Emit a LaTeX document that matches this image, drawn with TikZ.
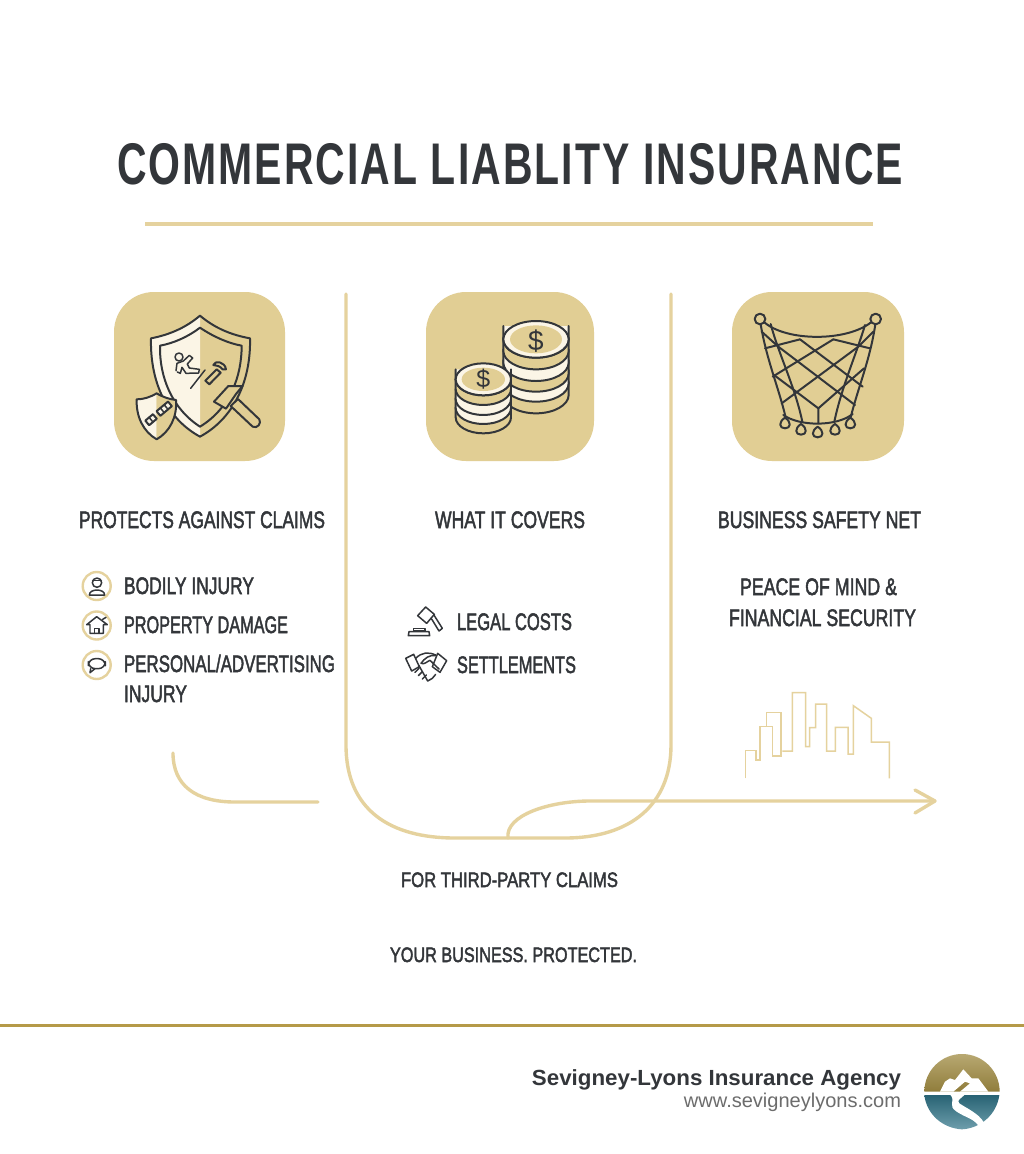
\documentclass[tikz,border=0pt]{standalone}
\usepackage{fontspec}
\usepackage{graphicx}
\usetikzlibrary{arrows.meta,calc}
\setmainfont{Liberation Sans}
\newfontfamily\condfont[FakeBold=2.4]{Liberation Sans}
\newfontfamily\titlefont[LetterSpace=5]{Liberation Sans Bold}
\newfontfamily\footbold{Liberation Sans Bold}
\definecolor{ink}{HTML}{33363A}
\definecolor{gold}{HTML}{E5D29E}
\definecolor{tan}{HTML}{E1CE94}
\definecolor{cream}{HTML}{FBF5E6}
\definecolor{rule}{HTML}{B59A48}
\definecolor{logogold}{HTML}{A08B42}
\definecolor{logoteal}{HTML}{2F7488}
\newcommand\fitT[3]{\resizebox{#1bp}{\height}{\condfont\fontsize{#2}{#2}\selectfont #3}}
\tikzset{
  x=1bp,y=-1bp,
  lab/.style={anchor=base west,inner sep=0pt,outer sep=0pt,text=ink},
  curveline/.style={draw=gold,line width=3.4pt,line cap=round,line join=round},
  iconbox/.style={fill=tan,rounded corners=40bp},
  ico/.style={draw=ink,line width=2pt,line join=round,line cap=round},
  icosm/.style={draw=ink,line width=1.5pt,line join=round,line cap=round},
  zoomA/.style={shift={(#1)},xscale=1/3,yscale=1/3},
  ring/.style={draw=gold,line width=2.4pt,fill=white}
}
\begin{document}
\begin{tikzpicture}
\useasboundingbox (0,0) rectangle (1024,1154);
\fill[white] (0,0) rectangle (1024,1154);
% title
\node[lab] (title) at (117,184) {\resizebox{786bp}{\height}{\titlefont\fontsize{59}{59}\selectfont COMMERCIAL LIABLITY INSURANCE}};
\draw[gold,line width=3.2pt] (145,224) -- (873,224);
% icon boxes
\path[iconbox] (114,292) rectangle (285,461);
\path[iconbox] (426,292) rectangle (594,461);
\path[iconbox] (732,292) rectangle (904,461);
% shield icon
\begin{scope}[zoomA={100,280}]
  \fill[cream] (300,107) .. controls (255,145) and (205,165) .. (153,175) .. controls (150,290) and (190,410) .. (300,470) -- cycle;
  \draw[ico] (300,107) .. controls (345,145) and (395,165) .. (450,175) .. controls (453,290) and (410,410) .. (300,470) .. controls (190,410) and (150,290) .. (153,175) .. controls (205,165) and (255,145) .. (300,107) -- cycle;
  \draw[ico] (300,143) .. controls (340,170) and (385,190) .. (425,197) .. controls (425,290) and (390,385) .. (300,440) .. controls (215,385) and (178,290) .. (180,197) .. controls (220,190) and (265,170) .. (300,143) -- cycle;
  % falling figure
  \draw[icosm] (237,231) circle (12);
  \draw[icosm] (228,272) -- (231,250) -- (250,243) -- (268,226) -- (278,234) -- (262,252) -- (268,264) -- (298,268) -- (296,279) -- (258,280) -- (246,262) -- (241,280) -- (232,276);
  \draw[icosm] (272,325) -- (315,270);
  % nail
  \draw[ico,fill=tan] (340,255) .. controls (345,240) and (375,245) .. (378,268) -- (368,268) .. controls (360,258) and (350,256) .. (340,255) -- cycle;
  \draw[ico,fill=tan] (350,268) -- (316,302) -- (328,313) -- (362,278) -- cycle;
  % hammer
  \draw[ico,fill=tan] (414,357) -- (478,418) .. controls (485,430) and (472,447) .. (458,440) -- (392,378) -- cycle;
  \draw[ico,fill=tan] (342,365) -- (385,318) -- (428,318) -- (408,342) -- (378,386) -- cycle;
  % small shield
  \fill[cream] (170,340) .. controls (150,352) and (130,358) .. (110,358) .. controls (108,410) and (130,455) .. (170,478) -- cycle;
  \fill[tan] (170,340) .. controls (190,352) and (210,358) .. (228,360) .. controls (232,410) and (210,455) .. (170,478) -- cycle;
  \draw[ico] (170,340) .. controls (190,352) and (210,358) .. (228,360) .. controls (232,410) and (210,455) .. (170,478) .. controls (130,455) and (108,410) .. (110,358) .. controls (130,358) and (150,352) .. (170,340) -- cycle;
  \begin{scope}[rotate around={40:(170,405)}]
    \draw[ico,fill=cream] (133,396) rectangle (163,414);
    \draw[ico,fill=cream] (177,396) rectangle (222,414);
    \draw[icosm] (148,396) -- (148,414) (192,396) -- (192,414) (207,396) -- (207,414);
  \end{scope}
\end{scope}
% coins
\begin{scope}[zoomA={415,280}]
  \foreach \yy/\cc in {345/tan,310/cream,280/tan,248/cream,213/tan,178/cream}{
    \fill[\cc] (265,\yy) arc[start angle=180,end angle=0,x radius=98,y radius=55] -- (461,\yy-40) -- (265,\yy-40) -- cycle;
    \draw[ico] (265,\yy-40) -- (265,\yy) arc[start angle=180,end angle=0,x radius=98,y radius=55] -- (461,\yy-40);
  }
  \draw[ico,fill=cream] (363,178) ellipse[x radius=98,y radius=55];
  \fill[tan] (363,178) ellipse[x radius=78,y radius=42];
  \node[text=ink,inner sep=0pt] (bigdollar) at (363,182) {\fontsize{28}{28}\selectfont\$};
  \foreach \yy/\cc in {412/tan,384/cream,357/cream,327/tan,298/cream}{
    \fill[\cc] (122,\yy) arc[start angle=180,end angle=0,x radius=83,y radius=48] -- (288,\yy-30) -- (122,\yy-30) -- cycle;
    \draw[ico] (122,\yy-30) -- (122,\yy) arc[start angle=180,end angle=0,x radius=83,y radius=48] -- (288,\yy-30);
  }
  \draw[ico,fill=cream] (205,298) ellipse[x radius=83,y radius=48];
  \fill[tan] (205,298) ellipse[x radius=65,y radius=35];
  \node[text=ink,inner sep=0pt] (smalldollar) at (205,298) {\fontsize{25}{25}\selectfont\$};
\end{scope}
% net
\begin{scope}[zoomA={720,280}]
  \draw[ico] (120,117) circle (16);
  \draw[ico] (467,117) circle (16);
  \draw[ico] (133,127) .. controls (200,185) and (380,185) .. (453,127);
  \draw[ico] (122,133) .. controls (140,240) and (175,320) .. (197,412);
  \draw[ico] (466,133) .. controls (450,240) and (415,320) .. (392,412);
  \draw[ico] (152,132) .. controls (175,220) and (225,320) .. (247,425);
  \draw[ico] (435,135) .. controls (410,220) and (365,320) .. (343,425);
  \draw[ico] (190,405) .. controls (240,440) and (350,440) .. (398,402);
  \draw[ico] (135,205) -- (240,178) (450,205) -- (340,178);
  \draw[ico] (125,155) -- (175,200) -- (405,375);
  \draw[ico] (460,155) -- (415,200) -- (185,370);
  \draw[ico] (240,178) -- (428,320);
  \draw[ico] (340,178) -- (158,290);
  \draw[ico] (162,285) -- (295,385) -- (295,430);
  \draw[ico] (432,265) -- (295,385);
  \foreach \px/\py in {195/428,243/447,293/455,345/447,391/428}{
    \draw[ico] (\px,\py-15) .. controls (\px+20,\py-2) and (\px+18,\py+17) .. (\px,\py+17) .. controls (\px-18,\py+17) and (\px-20,\py-2) .. (\px,\py-15) -- cycle;
  }
\end{scope}
% headings
\node[lab] (h1) at (79,528) {\fitT{246}{24}{PROTECTS AGAINST CLAIMS}};
\node[lab] (h2) at (435,528) {\fitT{150}{24}{WHAT IT COVERS}};
\node[lab] (h3) at (718,528) {\fitT{203}{24}{BUSINESS SAFETY NET}};
% left list
\node[lab] (l1) at (124,594) {\fitT{130}{24}{BODILY INJURY}};
\node[lab] (l2) at (124,633) {\fitT{164}{24}{PROPERTY DAMAGE}};
\node[lab] (l3) at (124,672) {\fitT{211}{24}{PERSONAL/ADVERTISING}};
\node[lab] (l4) at (124,702) {\fitT{63}{24}{INJURY}};
\draw[ring] (96.7,586) circle (14);
\draw[ring] (96.7,625.5) circle (14);
\draw[ring] (96.7,665) circle (14);
\begin{scope}[zoomA={70,560}]
  \draw[icosm] (81,68) circle (14);
  \draw[icosm] (68,62) -- (94,62);
  \draw[icosm] (58,105) .. controls (58,85) and (104,85) .. (104,105) -- cycle;
  \draw[icosm] (50,194) -- (80,170) -- (112,194) -- (100,194) -- (100,220) -- (60,220) -- (60,194) -- cycle;
  \draw[icosm] (73,220) -- (73,206) -- (87,206) -- (87,220);
  \draw[icosm] (98,178) -- (108,172);
  \draw[icosm,rounded corners=7bp] (55,296) rectangle (106,326);
  \draw[icosm] (62,326) -- (60,338) -- (75,326);
\end{scope}
% middle list
\node[lab] (m1) at (457,630) {\fitT{115}{24}{LEGAL COSTS}};
\node[lab] (m2) at (457,673) {\fitT{119}{24}{SETTLEMENTS}};
\begin{scope}[zoomA={395,595}]
  \draw[icosm,fill=white] (92,36) -- (118,58) -- (95,85) -- (68,62) -- cycle;
  \draw[icosm] (110,72) -- (132,108) -- (142,100) -- (118,62);
  \draw[icosm] (55,100) -- (90,100) -- (90,108) -- (55,108) -- cycle;
  \draw[icosm,fill=white] (40,122) -- (42,110) -- (102,110) -- (104,122) -- cycle;
  \draw[icosm] (56,178) -- (32,190) -- (50,228) -- (73,215) -- cycle;
  \draw[icosm] (128,175) -- (155,197) -- (135,232) -- (112,215) -- cycle;
  \draw[icosm] (62,190) .. controls (80,172) and (100,170) .. (122,180);
  \draw[icosm] (122,182) .. controls (105,178) and (88,190) .. (78,205) .. controls (88,210) and (98,198) .. (105,196) -- (132,222);
  \draw[icosm] (72,212) -- (98,258) -- (112,250) -- (122,238);
  \draw[icosm] (60,232) -- (72,220) (70,242) -- (82,230) (82,252) -- (94,240);
\end{scope}
% right text
\node[lab] (r1) at (740,595) {\fitT{157}{24}{PEACE OF MIND \&}};
\node[lab] (r2) at (729,626) {\fitT{187}{24}{FINANCIAL SECURITY}};
% skyline
\begin{scope}[zoomA={730,680}]
  \draw[gold,line width=1.5pt,line join=miter] (47,295) -- (47,212) -- (78,212) -- (78,240) -- (90,240) -- (90,140) -- (127,140) -- (127,228) -- (153,228) -- (153,98) -- (110,98) -- (110,140);
  \draw[gold,line width=1.5pt] (157,213) -- (187,213) -- (187,38) -- (227,38) -- (227,200) -- (239,200) -- (239,143) -- (257,143) -- (257,72) -- (290,72) -- (290,213) -- (316,213) -- (316,142) -- (354,142) -- (354,222) -- (370,222) -- (370,77) -- (424,115) -- (424,186) -- (478,186) -- (478,295);
\end{scope}
% curves
\draw[curveline] (346,294) -- (346,745) .. controls (346,810) and (390,838) .. (455,838) -- (565,838) .. controls (630,838) and (671,805) .. (671,745) -- (671,294);
\draw[curveline] (173,753) .. controls (173,785) and (195,802) .. (235,802) -- (318,802);
\draw[curveline] (508,838) .. controls (505,815) and (550,801) .. (590,801) -- (933,801);
\draw[curveline] (915,790) -- (935,801) -- (915,813);
% bottom texts
\node[lab] (b1) at (401,887) {\fitT{217}{21}{FOR THIRD-PARTY CLAIMS}};
\node[lab] (b2) at (390,962) {\fitT{247}{21}{YOUR BUSINESS. PROTECTED.}};
% footer
\draw[rule,line width=3pt] (0,1025) -- (1024,1025);
\node[lab,anchor=base east] (f1) at (901,1085) {\resizebox{369bp}{\height}{\footbold\fontsize{22}{22}\selectfont Sevigney-Lyons Insurance Agency}};
\node[lab,anchor=base east,text=gray!85!black] (f2) at (901,1107) {\resizebox{217bp}{\height}{\fontsize{20}{20}\selectfont www.sevigneylyons.com}};
% logo
\begin{scope}[zoomA={900,1040}]
  \shade[top color=logogold!75!white,bottom color=logogold!90!black] (73,155) arc[start angle=180,end angle=360,radius=113] -- cycle;
  \shade[top color=logoteal!85!black,bottom color=logoteal!70!white] (73,165) -- (298,165) .. controls (290,225) and (240,265) .. (186,268) .. controls (130,265) and (80,225) .. (73,165) -- cycle;
  \fill[white] (120,155) -- (135,125) -- (150,115) -- (165,120) -- (190,88) -- (215,115) -- (235,115) -- (265,155) -- (180,155) -- (210,130) -- (195,125) -- (160,155) -- cycle;
  \fill[white] (150,163) .. controls (170,185) and (140,195) .. (170,215) .. controls (200,235) and (225,235) .. (240,265) -- (250,245) .. controls (235,220) and (200,205) .. (178,190) .. controls (168,180) and (185,175) .. (195,163) -- cycle;
\end{scope}
\end{tikzpicture}
\end{document}
